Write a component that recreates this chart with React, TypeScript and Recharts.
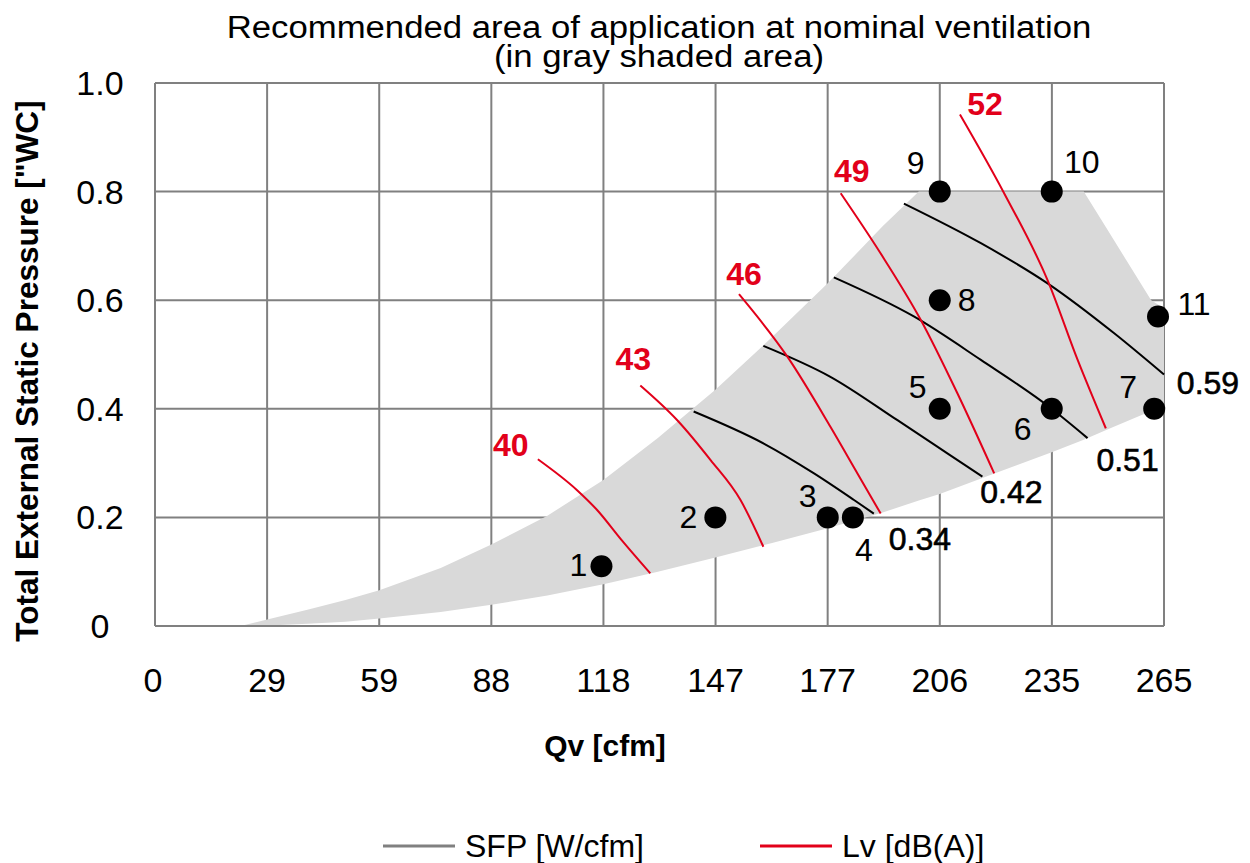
import React from "react";
import { ComposedChart, Area, Line, Scatter, XAxis, YAxis, CartesianGrid, Legend, Label, LabelList } from "recharts";

const FONT = "'Liberation Sans', Arial, Helvetica, sans-serif";
const RED = "#e2001a";
const GRID = "#808080";

// axis ticks (cfm in 50 m3/h steps)
const X_TICKS = [0, 29.43, 58.86, 88.29, 117.72, 147.15, 176.58, 206.01, 235.44, 264.87];
const X_TICK_LABELS = ["0", "29", "59", "88", "118", "147", "177", "206", "235", "265"];
const Y_TICKS = [0, 0.2, 0.4, 0.6, 0.8, 1.0];
const Y_TICK_LABELS = ["0", "0.2", "0.4", "0.6", "0.8", "1.0"];

// gray shaded area: lower / upper boundary
const AREA_QV = [22.5, 30, 40, 50, 58.9, 75, 88.3, 103, 117.7, 132, 147.1, 162, 176.6, 191, 200.5, 206, 220, 235.4, 243.8, 250, 261.5, 264.87];
const AREA_LOW = [0, 0.001, 0.004, 0.008, 0.014, 0.026, 0.039, 0.056, 0.077, 0.1, 0.126, 0.153, 0.18, 0.209, 0.231, 0.243, 0.28, 0.32, 0.343, 0.362, 0.396, 0.405];
const AREA_HIGH = [0, 0.013, 0.03, 0.048, 0.066, 0.107, 0.15, 0.203, 0.269, 0.346, 0.435, 0.532, 0.631, 0.736, 0.8, 0.8, 0.8, 0.8, 0.8, 0.73, 0.6, 0.585];

// SFP curves [W/cfm]
const SFP_LABELS = ["0.34", "0.42", "0.51", "0.59"];
const SFP_QV = [
  [141.4, 159.8, 173, 183.5, 188.7],
  [159.7, 177.3, 194.9, 208, 217.2],
  [178.2, 199.2, 216.8, 235.2, 244.8],
  [196.6, 216.8, 234.3, 251.8, 264.87],
];
const SFP_P = [
  [0.395, 0.336, 0.281, 0.232, 0.207],
  [0.516, 0.459, 0.379, 0.318, 0.275],
  [0.642, 0.57, 0.49, 0.401, 0.346],
  [0.778, 0.705, 0.631, 0.539, 0.463],
];

// Lv curves [dB(A)]
const LV_LABELS = ["40", "43", "46", "49", "52"];
const LV_QV = [
  [100.5, 110.8, 116, 122.5, 130],
  [127.4, 137.1, 145.8, 153.7, 159.7],
  [153.3, 166, 177.3, 184.4, 190.5],
  [180, 190.5, 201, 210.6, 220.3],
  [211.3, 222.9, 234.3, 242.2, 249.6],
];
const LV_P = [
  [0.307, 0.25, 0.214, 0.158, 0.097],
  [0.443, 0.379, 0.306, 0.232, 0.146],
  [0.611, 0.496, 0.367, 0.281, 0.207],
  [0.797, 0.686, 0.564, 0.429, 0.281],
  [0.942, 0.797, 0.637, 0.49, 0.364],
];

// operating points
const PT_LABELS = ["1", "2", "3", "4", "5", "6", "7", "8", "9", "10", "11"];
const PT_QV = [117.2, 147.1, 176.6, 183.2, 206, 235.4, 262.3, 206, 206, 235.4, 263.3];
const PT_P = [0.11, 0.2, 0.2, 0.2, 0.4, 0.4, 0.4, 0.6, 0.8, 0.8, 0.57];

// label placement (px offsets)
const PT_OFFSET: Record<string, [number, number]> = {
  "1": [-23, -1], "2": [-27, 0], "3": [-20, -21], "4": [11, 33], "5": [-22, -22], "6": [-29, 20],
  "7": [-26, -22], "8": [27, 0], "9": [-24, -29], "10": [30, -30], "11": [36, -12],
};
const LV_OFFSET = [[-27, -14], [-7, -26], [5, -20], [11, -22], [25, -10]];
const SFP_OFFSET = [[46, 25], [29, 15], [40, 22], [44, 8]];

const areaData = AREA_QV.map((qv, i) => ({ qv, range: [AREA_LOW[i], AREA_HIGH[i]] }));
const sfpData = SFP_QV.map((xs, k) => xs.map((qv, i) => ({ qv, p: SFP_P[k][i] })));
const lvData = LV_QV.map((xs, k) => xs.map((qv, i) => ({ qv, p: LV_P[k][i] })));
const pointData = PT_LABELS.map((label, i) => ({ label, qv: PT_QV[i], p: PT_P[i] }));

const XTick = (props: any) => {
  const { x, y, index } = props;
  return (
    <text x={x - (index === 0 ? 2 : 0)} y={y + 54} textAnchor="middle" dominantBaseline="central" fontFamily={FONT} fontSize={34} fill="#000">
      {X_TICK_LABELS[index]}
    </text>
  );
};

const YTick = (props: any) => {
  const { x, y, index } = props;
  return (
    <text x={x - 55} y={y} textAnchor="middle" dominantBaseline="central" fontFamily={FONT} fontSize={34} fill="#000">
      {Y_TICK_LABELS[index]}
    </text>
  );
};

const curveLabel = (text: string, target: number, off: number[], color: string, bold: boolean) => (props: any) => {
  const { x, y, index } = props;
  if (index !== target) return null;
  return (
    <text x={x + off[0]} y={y + off[1]} textAnchor="middle" dominantBaseline="central" fontFamily={FONT} fontSize={32}
      fontWeight={bold ? "bold" : "normal"} fill={color} stroke={bold ? "none" : color} strokeWidth={0.6}>
      {text}
    </text>
  );
};

const PointShape = (props: any) => {
  const { cx, cy, payload } = props;
  const off = PT_OFFSET[payload.label];
  return (
    <g>
      <circle cx={cx} cy={cy} r={11} fill="#000" />
      <text x={cx + off[0]} y={cy + off[1]} textAnchor="middle" dominantBaseline="central" fontFamily={FONT} fontSize={32} fill="#000">
        {payload.label}
      </text>
    </g>
  );
};

const LegendContent = () => (
  <div style={{ position: "relative", height: 32, fontFamily: FONT, fontSize: 32, lineHeight: 1, color: "#000" }}>
    <div style={{ position: "absolute", left: 375, top: 0, height: 32, display: "flex", alignItems: "center" }}>
      <svg width={72} height={4}><line x1={0} y1={2} x2={72} y2={2} stroke={GRID} strokeWidth={3} /></svg>
      <span style={{ marginLeft: 10 }}>SFP [W/cfm]</span>
    </div>
    <div style={{ position: "absolute", left: 752, top: 0, height: 32, display: "flex", alignItems: "center" }}>
      <svg width={72} height={4}><line x1={0} y1={2} x2={72} y2={2} stroke={RED} strokeWidth={3} /></svg>
      <span style={{ marginLeft: 10 }}>Lv [dB(A)]</span>
    </div>
  </div>
);

export default function App() {
  return (
    <div style={{ position: "relative", width: 1234, height: 855 }}>
      <style>{"body{margin:8px 8px 0 8px;overflow:hidden}"}</style>
      <div style={{ position: "absolute", left: 51, top: 5, width: 1200, textAlign: "center", fontFamily: FONT, fontSize: 31, lineHeight: "29px", color: "#000", transform: "scaleX(1.12)", transformOrigin: "600px 0" }}>
        Recommended area of application at nominal ventilation
        <br />
        (in gray shaded area)
      </div>
      <ComposedChart width={1234} height={855} margin={{ top: 75, right: 78, bottom: 0, left: 0 }}>
        <CartesianGrid stroke={GRID} strokeWidth={2} />
        <XAxis type="number" dataKey="qv" domain={[0, 264.87]} ticks={X_TICKS}
          height={237} tickSize={0} tickMargin={0} tickLine={false} axisLine={{ stroke: GRID, strokeWidth: 2 }} tick={<XTick />} interval={0}>
          <Label content={() => (
            <text x={597} y={737} textAnchor="middle" dominantBaseline="central" fontFamily={FONT} fontSize={30} fontWeight="bold" fill="#000">Qv [cfm]</text>
          )} />
        </XAxis>
        <YAxis type="number" dataKey="p" domain={[0, 1]} ticks={Y_TICKS}
          width={147} tickSize={0} tickMargin={0} tickLine={false} axisLine={{ stroke: GRID, strokeWidth: 2 }} tick={<YTick />} interval={0}>
          <Label content={() => (
            <text x={19} y={363} transform="rotate(-90 19 363)" textAnchor="middle" dominantBaseline="central" fontFamily={FONT} fontSize={31.5} fontWeight="bold" fill="#000">
              Total External Static Pressure ["WC]
            </text>
          )} />
        </YAxis>
        <Area data={areaData} dataKey="range" type="linear" fill="#d9d9d9" fillOpacity={1} stroke="none" isAnimationActive={false} />
        {sfpData.map((d, k) => (
          <Line key={`sfp-${k}`} data={d} dataKey="p" type="monotone" stroke="#000" strokeWidth={2} dot={false} isAnimationActive={false}>
            <LabelList dataKey="p" content={curveLabel(SFP_LABELS[k], d.length - 1, SFP_OFFSET[k], "#000", false)} />
          </Line>
        ))}
        {lvData.map((d, k) => (
          <Line key={`lv-${k}`} data={d} dataKey="p" type="monotone" stroke={RED} strokeWidth={2} dot={false} isAnimationActive={false}>
            <LabelList dataKey="p" content={curveLabel(LV_LABELS[k], 0, LV_OFFSET[k], RED, true)} />
          </Line>
        ))}
        <Scatter data={pointData} dataKey="p" shape={<PointShape />} isAnimationActive={false} />
        <Legend layout="horizontal" verticalAlign="middle" align="center" content={<LegendContent />}
          wrapperStyle={{ top: 822, left: 0, width: 1234, height: 32 }} />
      </ComposedChart>
    </div>
  );
}
